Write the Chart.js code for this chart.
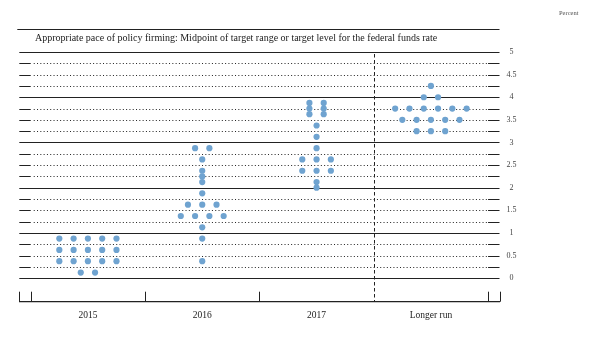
<!DOCTYPE html>
<html>
<head>
<meta charset="utf-8">
<script src="https://cdn.jsdelivr.net/npm/chart.js@4.4.0/dist/chart.umd.min.js"></script>
<style>
  html, body { margin: 0; padding: 0; background: #fff; }
  #wrap { width: 603px; height: 339px; }
</style>
</head>
<body>
<div id="wrap"><canvas id="dotChart"></canvas></div>
<script>
// one value per participant, per column
const categories = ['2015', '2016', '2017', 'Longer run'];
const rates2015 = [0.125, 0.125,
    0.375, 0.375, 0.375, 0.375, 0.375,
    0.625, 0.625, 0.625, 0.625, 0.625,
    0.875, 0.875, 0.875, 0.875, 0.875];
const rates2016 = [0.375, 0.875, 1.125,
    1.375, 1.375, 1.375, 1.375,
    1.625, 1.625, 1.625,
    1.875, 2.125, 2.25, 2.375, 2.625,
    2.875, 2.875];
const rates2017 = [2.0, 2.125,
    2.375, 2.375, 2.375,
    2.625, 2.625, 2.625,
    2.875, 3.125, 3.375,
    3.625, 3.625, 3.75, 3.75, 3.875, 3.875];
const ratesLongerRun = [3.25, 3.25, 3.25,
    3.5, 3.5, 3.5, 3.5, 3.5,
    3.75, 3.75, 3.75, 3.75, 3.75, 3.75,
    4.0, 4.0, 4.25];
const yTickLabels = ['0', '0.5', '1', '1.5', '2', '2.5', '3', '3.5', '4', '4.5', '5'];
const chartTitle = 'Appropriate pace of policy firming: Midpoint of target range or target level for the federal funds rate';
const unitLabel = 'Percent';

const dotColor = '#6fa3d0';
const lineColor = '#222';
const serif = '"Liberation Serif", "DejaVu Serif", serif';
const dotSpacing = 0.125; // horizontal gap between dots that share a value

// spread equal values side by side around the column centre
function toPoints(values, col) {
    const counts = {};
    values.forEach(v => { counts[v] = (counts[v] || 0) + 1; });
    const seen = {};
    return values.map(v => {
        const j = seen[v] || 0;
        seen[v] = j + 1;
        return { x: col + (j - (counts[v] - 1) / 2) * dotSpacing, y: v };
    });
}

const allRates = [rates2015, rates2016, rates2017, ratesLongerRun];
const datasets = allRates.map((vals, i) => ({
    label: categories[i],
    data: toPoints(vals, i),
    backgroundColor: dotColor,
    borderWidth: 0,
    pointRadius: 3.1,
    pointHoverRadius: 3.1
}));

const gridMax = parseFloat(yTickLabels[yTickLabels.length - 1]);

const frameLines = {
    id: 'frameLines',
    beforeDatasetsDraw(chart) {
        const { ctx, chartArea: area, scales: { x, y } } = chart;
        const innerLeft = x.getPixelForValue(-0.5);
        const innerRight = x.getPixelForValue(categories.length - 0.5);
        ctx.save();
        ctx.strokeStyle = lineColor;
        ctx.fillStyle = lineColor;

        // horizontal rules every quarter point
        for (let v = 0; v <= gridMax + 1e-9; v += 0.25) {
            const py = Math.round(y.getPixelForValue(v)) + 0.5;
            if (Math.abs(v - Math.round(v)) < 1e-9) {
                ctx.setLineDash([]);
                ctx.lineWidth = 1.2;
                ctx.beginPath();
                ctx.moveTo(area.left, py);
                ctx.lineTo(area.right, py);
                ctx.stroke();
            } else {
                ctx.setLineDash([]);
                ctx.lineWidth = 1.2;
                ctx.beginPath();
                ctx.moveTo(area.left, py);
                ctx.lineTo(innerLeft, py);
                ctx.moveTo(innerRight, py);
                ctx.lineTo(area.right, py);
                ctx.stroke();
                ctx.setLineDash([1, 2.3]);
                ctx.lineWidth = 1;
                ctx.beginPath();
                ctx.moveTo(innerLeft + 3, py);
                ctx.lineTo(innerRight - 1, py);
                ctx.stroke();
            }
        }

        // top rule of the title box
        ctx.setLineDash([]);
        ctx.lineWidth = 1.2;
        const topY = Math.round(area.top) + 0.5;
        ctx.beginPath();
        ctx.moveTo(area.left - 2, topY);
        ctx.lineTo(area.right, topY);
        ctx.stroke();

        // dashed separator before the longer run column
        const sepX = Math.round(x.getPixelForValue(categories.length - 1.5)) + 0.5;
        ctx.setLineDash([3.5, 2.5]);
        ctx.lineWidth = 1;
        ctx.beginPath();
        ctx.moveTo(sepX, y.getPixelForValue(gridMax) + 2);
        ctx.lineTo(sepX, area.bottom);
        ctx.stroke();

        // small ticks on the bottom axis
        ctx.setLineDash([]);
        const tickXs = [area.left, area.right];
        for (let i = 0; i <= categories.length; i++) {
            if (i !== categories.length - 1) tickXs.push(x.getPixelForValue(i - 0.5));
        }
        tickXs.forEach(tx => {
            const px = Math.round(tx) + 0.5;
            ctx.beginPath();
            ctx.moveTo(px, area.bottom - 10);
            ctx.lineTo(px, area.bottom);
            ctx.stroke();
        });

        // texts
        ctx.fillStyle = '#222';
        ctx.font = '10px ' + serif;
        ctx.textBaseline = 'middle';
        ctx.textAlign = 'left';
        ctx.fillText(chartTitle, 35, 38.5);
        ctx.fillStyle = '#555';
        ctx.font = '6.5px ' + serif;
        ctx.fillText(unitLabel, 559, 13);
        ctx.restore();
    }
};

const chart = new Chart(document.getElementById('dotChart'), {
    type: 'scatter',
    data: { datasets: datasets },
    options: {
        responsive: true,
        maintainAspectRatio: false,
        animation: false,
        devicePixelRatio: 1,
        layout: { padding: { left: 19.3, top: 29.4, right: 78.5, bottom: 0 } },
        plugins: {
            legend: { display: false },
            tooltip: { enabled: false }
        },
        scales: {
            x: {
                type: 'linear',
                min: -0.6,
                max: categories.length - 0.4,
                grid: { display: false, drawTicks: false },
                border: { display: true, color: lineColor, width: 1.2 },
                afterBuildTicks: axis => { axis.ticks = categories.map((c, i) => ({ value: i })); },
                afterFit: axis => { axis.height = 37.3; },
                ticks: {
                    autoSkip: false,
                    maxRotation: 0,
                    padding: 8,
                    color: '#222',
                    font: { family: serif, size: 9.5 },
                    callback: v => categories[v]
                }
            },
            y: {
                type: 'linear',
                position: 'right',
                min: -0.52,
                max: 5.5,
                grid: { display: false, drawTicks: false },
                border: { display: false },
                afterBuildTicks: axis => { axis.ticks = yTickLabels.map(t => ({ value: parseFloat(t) })); },
                afterFit: axis => { axis.width = 25; },
                ticks: {
                    autoSkip: false,
                    padding: 7,
                    crossAlign: 'center',
                    color: '#444',
                    font: { family: serif, size: 8 },
                    callback: v => yTickLabels.find(t => parseFloat(t) === v)
                }
            }
        }
    },
    plugins: [frameLines]
});
</script>
</body>
</html>
